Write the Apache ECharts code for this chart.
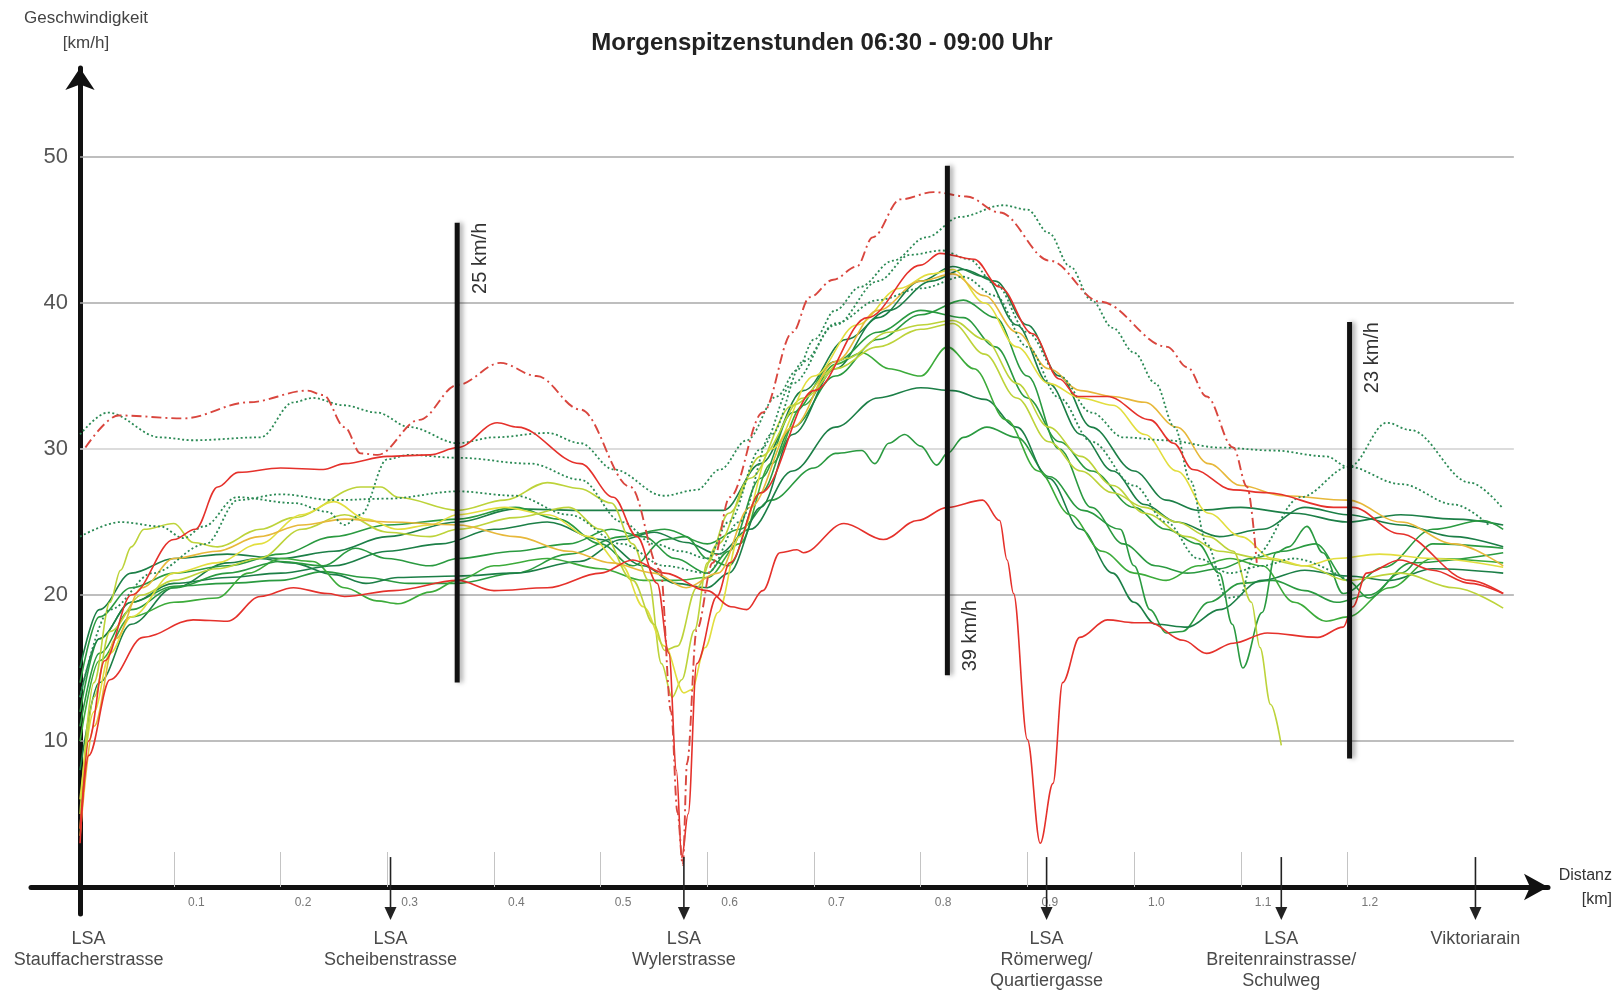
<!DOCTYPE html>
<html><head><meta charset="utf-8">
<script src="https://cdn.jsdelivr.net/npm/echarts@6/dist/echarts.min.js"></script>
<style>html,body{margin:0;padding:0;background:#fff}#c{width:1623px;height:993px}</style>
</head><body><div id="c"></div>
<script>
// ---------- axis ticks ----------
const xTicks = [0.1,0.2,0.3,0.4,0.5,0.6,0.7,0.8,0.9,1.0,1.1,1.2];
const yTicks = [10,20,30,40,50];
const gridEnds = [0.012, 1.356];

// ---------- signals (LSA) along the route ----------
const signalKm    = [0.02, 0.303, 0.578, 0.918, 1.138, 1.320];
const signalNames = ['LSA\nStauffacherstrasse','LSA\nScheibenstrasse','LSA\nWylerstrasse','LSA\nRömerweg/\nQuartiergasse','LSA\nBreitenrainstrasse/\nSchulweg','Viktoriarain'];
const signalArrow = [false,true,true,true,true,true];

// ---------- average speed bars ----------
const barKm    = [0.3655, 0.825, 1.202];
const barLow   = [14.0, 14.5, 8.8];
const barHigh  = [45.5, 49.4, 38.7];
const barText  = ['25 km/h','39 km/h','23 km/h'];

// ---------- measured runs [km, km/h] ----------
const rDashDot = [[0.017,30.1],[0.048,32.3],[0.109,32.1],[0.17,33.2],[0.225,34.0],[0.24,33.7],[0.26,31.5],[0.275,29.7],[0.291,29.6],[0.33,32.0],[0.366,34.4],[0.406,35.9],[0.44,35.0],[0.481,32.7],[0.528,27.4],[0.556,21.7],[0.566,12],[0.572,5.1],[0.577,1.5],[0.581,8.5],[0.590,17.6],[0.605,22.2],[0.621,26.7],[0.652,32.5],[0.68,38.0],[0.696,40.4],[0.718,41.6],[0.74,42.5],[0.755,44.5],[0.781,47.1],[0.812,47.6],[0.843,47.3],[0.874,46.2],[0.921,42.9],[0.968,40.1],[1.031,37.0],[1.05,35.6],[1.068,33.6],[1.093,30.1],[1.106,27.4],[1.115,22.2]];
const red1 = [[0.012,3],[0.02,10],[0.035,15.5],[0.06,20],[0.1,23.8],[0.12,24.5],[0.141,27.4],[0.16,28.4],[0.2,28.7],[0.24,28.6],[0.26,29.0],[0.3,29.5],[0.34,29.6],[0.366,30.1],[0.403,31.8],[0.422,31.5],[0.481,29.0],[0.512,26.7],[0.534,24.0],[0.553,20.8],[0.564,16],[0.571,8],[0.576,2],[0.582,5],[0.59,15.3],[0.609,19.9],[0.621,22.2],[0.65,27],[0.7,34],[0.75,39],[0.8,42.6],[0.818,43.4],[0.85,43],[0.874,41.1],[0.905,37.9],[0.93,34.8],[0.947,33.6],[0.975,33.6],[1.015,32.0],[1.037,30.4],[1.055,28.6],[1.093,27.2],[1.125,27.0],[1.187,26.0],[1.205,26.0],[1.249,24.2],[1.315,21.0],[1.346,20.1]];
const red2 = [[0.012,4],[0.02,9],[0.04,14.2],[0.071,17.1],[0.118,18.3],[0.15,18.2],[0.181,19.9],[0.212,20.5],[0.244,20.1],[0.26,19.9],[0.306,20.3],[0.366,21.0],[0.40,20.3],[0.45,20.5],[0.5,21.5],[0.53,22.4],[0.56,21.5],[0.6,20.3],[0.622,19.2],[0.637,19.0],[0.652,20.3],[0.668,22.9],[0.684,23.1],[0.69,22.9],[0.728,24.9],[0.765,23.8],[0.797,25.1],[0.825,26.0],[0.858,26.5],[0.874,25.1],[0.881,22.4],[0.887,20.1],[0.9,10.1],[0.912,3.0],[0.924,7.1],[0.933,14.0],[0.949,17.1],[0.975,18.3],[1.0,18.1],[1.015,18.1],[1.046,16.9],[1.068,16.0],[1.093,16.7],[1.125,17.4],[1.172,17.1],[1.196,17.8],[1.205,19.2],[1.218,21.5],[1.249,22.4],[1.28,21.7],[1.315,20.8],[1.346,20.1]];
const dot1 = [[0.012,31.0],[0.038,32.5],[0.087,30.8],[0.118,30.6],[0.181,30.8],[0.212,33.2],[0.23,33.5],[0.259,33.0],[0.29,32.5],[0.321,31.5],[0.366,30.4],[0.4,30.8],[0.45,31.1],[0.481,30.4],[0.512,28.6],[0.559,26.8],[0.59,27.2],[0.612,28.6],[0.637,30.6],[0.665,33.6],[0.684,35.4],[0.7,37.5],[0.72,39.5],[0.743,41.1],[0.774,42.9],[0.805,44.5],[0.837,45.9],[0.877,46.7],[0.9,46.4],[0.92,44.8],[0.94,42.5],[0.96,40.2],[0.98,38.3],[1.0,36.6],[1.02,34.5],[1.038,31.5],[1.053,27.8],[1.068,23.5],[1.087,19.8],[1.099,19.9],[1.112,22.6],[1.156,26.7],[1.202,28.8],[1.237,31.8],[1.259,31.3],[1.315,27.7],[1.346,25.9]];
const dot2 = [[0.012,24],[0.05,25],[0.087,24.7],[0.109,23.9],[0.128,24.7],[0.159,26.7],[0.212,26.3],[0.244,25.7],[0.26,24.8],[0.275,25.5],[0.3,29.3],[0.32,29.6],[0.366,29.4],[0.434,29.0],[0.481,27.9],[0.52,25],[0.55,23.5],[0.575,23.0],[0.6,22.5],[0.62,25],[0.65,30],[0.68,34.5],[0.72,38.5],[0.76,41.5],[0.79,43.3],[0.82,43.6],[0.845,43.0],[0.87,41.3],[0.9,38],[0.93,35],[0.96,32.5],[0.99,30.8],[1.03,30.6],[1.08,30.1],[1.13,29.9],[1.18,29.5],[1.2,28.8],[1.25,27.6],[1.3,26.2],[1.334,24.7]];
const dot3 = [[0.012,13],[0.04,19],[0.08,21.5],[0.13,23.5],[0.16,26.5],[0.2,26.9],[0.25,26.5],[0.3,26.6],[0.366,27.1],[0.42,26.8],[0.47,25.5],[0.52,23.5],[0.56,22.0],[0.6,21.5],[0.63,25],[0.66,31],[0.69,36],[0.72,38.6],[0.76,40.2],[0.8,41],[0.84,41.8],[0.87,40.5],[0.9,37],[0.93,33.5],[0.96,30.5],[1.0,27.5],[1.03,25.0],[1.06,22.5],[1.09,21.5],[1.12,22],[1.15,22.5],[1.2,21]];
const green1 = [[0.012,15],[0.03,19],[0.06,21.5],[0.1,22.5],[0.15,22.8],[0.2,22.5],[0.25,23.0],[0.3,24.0],[0.366,25.0],[0.42,25.9],[0.48,25.8],[0.55,25.8],[0.615,25.8],[0.65,29],[0.69,34],[0.73,37.5],[0.77,39.5],[0.81,41.5],[0.84,42.3],[0.87,41.5],[0.9,38.5],[0.93,35],[0.96,31.5],[1.0,28.5],[1.03,26.5],[1.06,25.8],[1.1,26.0],[1.15,25.6],[1.2,25.0],[1.25,25.5],[1.3,25.2],[1.346,24.8]];
const green2 = [[0.012,12],[0.03,17],[0.06,19.5],[0.1,20.6],[0.15,20.8],[0.2,21.0],[0.24,21.6],[0.28,21.2],[0.32,20.8],[0.366,20.8],[0.42,21.5],[0.47,22.8],[0.52,24],[0.56,24.5],[0.6,23.5],[0.63,24.5],[0.66,26.5],[0.7,28.7],[0.72,29.7],[0.745,29.9],[0.757,29.0],[0.77,30.4],[0.785,31.0],[0.8,30.2],[0.815,28.9],[0.825,29.7],[0.84,30.8],[0.862,31.5],[0.89,30.8],[0.921,28.1],[0.952,25.8],[0.987,24.5],[1.0,22],[1.015,19],[1.03,17.4],[1.045,17.5],[1.07,19.5],[1.1,20.8],[1.13,21.0],[1.16,20.3],[1.19,19.5],[1.22,20.0],[1.26,22.2],[1.346,22.9]];
const green3 = [[0.012,8],[0.03,14],[0.06,18],[0.1,20.5],[0.15,22.2],[0.18,22.5],[0.21,22.2],[0.25,21.4],[0.28,20.8],[0.31,21.2],[0.366,21.3],[0.42,21.5],[0.48,22.3],[0.52,23.8],[0.55,24.3],[0.58,23.6],[0.61,22.8],[0.64,24.5],[0.68,28.5],[0.72,31.5],[0.76,33.5],[0.8,34.2],[0.83,34.0],[0.86,33.4],[0.89,31.5],[0.92,28],[0.95,24.5],[0.98,21.5],[1.0,19.5],[1.02,18.0],[1.05,17.8],[1.08,19.0],[1.12,21.0],[1.16,21.7],[1.2,21.3],[1.24,21.0],[1.28,21.8],[1.346,21.5]];
const green4 = [[0.012,10],[0.03,15.5],[0.06,18.5],[0.1,19.5],[0.14,19.8],[0.17,21.5],[0.2,22.5],[0.23,22.3],[0.26,20.5],[0.29,19.6],[0.31,19.4],[0.34,20.2],[0.366,21.0],[0.4,22.0],[0.45,22.5],[0.5,21.8],[0.54,21.0],[0.57,21.0],[0.6,21.2],[0.63,23.5],[0.66,29],[0.69,33],[0.72,35.8],[0.745,36.6],[0.77,35.5],[0.8,35.0],[0.825,37.0],[0.85,35.5],[0.88,32],[0.91,28.5],[0.94,25.5],[0.97,23.0],[1.0,21.5],[1.03,21.0],[1.06,22.0],[1.09,22.5],[1.12,22.0],[1.15,19.5],[1.18,18.2],[1.2,18.5],[1.24,20.5],[1.28,22.5],[1.346,22.2]];
const green5 = [[0.012,14],[0.03,18.5],[0.06,20.5],[0.1,21.5],[0.15,22.0],[0.2,22.8],[0.25,24.0],[0.3,24.8],[0.366,25.2],[0.42,26.0],[0.46,25.2],[0.5,23.5],[0.53,22.0],[0.56,23.8],[0.58,24.0],[0.6,22.5],[0.62,22.0],[0.65,27],[0.68,31.5],[0.72,35],[0.76,37.5],[0.8,39.2],[0.84,40.2],[0.87,39.0],[0.9,35],[0.93,30],[0.96,26],[0.99,23.5],[1.02,22.0],[1.05,21.5],[1.08,21.8],[1.11,22.5],[1.14,23.0],[1.17,23.5],[1.2,21],[1.22,19.8],[1.25,21.5],[1.28,23.5],[1.346,23.2]];
const green6 = [[0.012,13],[0.03,17],[0.06,19.5],[0.1,20.8],[0.15,21.2],[0.2,21.5],[0.25,22.0],[0.3,23.0],[0.35,23.5],[0.4,24.5],[0.45,25.0],[0.5,23.8],[0.54,22.0],[0.57,20.8],[0.6,20.5],[0.62,21.5],[0.65,26],[0.68,31],[0.72,35.5],[0.76,39],[0.8,41.5],[0.83,42.5],[0.86,41.8],[0.89,38.5],[0.92,34.5],[0.95,31.0],[0.98,28.5],[1.01,26.2],[1.04,25.0],[1.08,24.0],[1.12,24.5],[1.16,26.0],[1.2,25.5],[1.25,24.8],[1.3,24.0],[1.346,23.3]];
const green7 = [[0.012,11],[0.03,16],[0.06,19],[0.1,20.5],[0.15,21.5],[0.2,22.3],[0.24,22.0],[0.27,23.2],[0.3,22.5],[0.34,22.0],[0.366,22.5],[0.42,23.0],[0.47,23.5],[0.51,24.5],[0.54,24.0],[0.57,22.5],[0.6,21.5],[0.62,23],[0.65,28],[0.68,32.5],[0.72,36],[0.76,38],[0.8,39.5],[0.84,39.0],[0.87,37],[0.9,33.5],[0.93,30.5],[0.96,28.5],[1.0,26.0],[1.03,24.5],[1.06,23.5],[1.08,21.5],[1.092,18],[1.102,15.0],[1.12,18.8],[1.133,22.9],[1.145,23.3],[1.162,24.7],[1.177,22.9],[1.196,20.1],[1.234,21.9],[1.28,24.5],[1.327,25.1],[1.346,24.5]];
const yellow1 = [[0.012,5],[0.025,14],[0.04,19.5],[0.05,21.7],[0.06,23.3],[0.072,24.5],[0.1,24.9],[0.118,23.6],[0.141,23.3],[0.181,24.5],[0.212,25.3],[0.275,27.4],[0.294,27.4],[0.31,26.7],[0.366,25.8],[0.41,26.5],[0.45,27.7],[0.48,27.3],[0.51,26.3],[0.53,23.5],[0.545,21.0],[0.557,15.3],[0.567,13.0],[0.576,14.2],[0.588,17.6],[0.6,22.2],[0.62,25.6],[0.65,29.5],[0.69,33.5],[0.73,36.2],[0.77,38.0],[0.8,38.5],[0.83,38.8],[0.86,37.5],[0.89,34.5],[0.92,31.5],[0.95,29.5],[0.98,27.5],[1.01,25.6],[1.05,24.0],[1.08,23.0],[1.12,22.5],[1.16,22.0],[1.2,21.0],[1.25,21.5],[1.3,20.5],[1.346,19.1]];
const yellow2 = [[0.012,6],[0.025,12],[0.04,16],[0.06,18.5],[0.1,21.5],[0.14,22.2],[0.18,23.5],[0.22,25.5],[0.25,26.4],[0.28,25.2],[0.31,24.5],[0.34,24.8],[0.366,25.5],[0.41,26.0],[0.45,25.5],[0.49,24.0],[0.52,22.0],[0.54,19.2],[0.56,16.5],[0.578,13.3],[0.585,13.5],[0.598,16.4],[0.61,18.8],[0.63,24],[0.66,30],[0.7,35],[0.74,38.5],[0.78,41.0],[0.81,42.0],[0.83,42.3],[0.86,40.0],[0.89,37],[0.92,34.5],[0.95,33.5],[0.98,33.0],[1.01,31.0],[1.04,28.5],[1.07,25.6],[1.1,24.0],[1.13,22.5],[1.16,22.0],[1.19,22.5],[1.23,22.8],[1.28,22.5],[1.346,21.9]];
const yellow3 = [[0.012,4],[0.025,13],[0.04,17.5],[0.07,20],[0.1,21.0],[0.14,21.8],[0.18,22.5],[0.22,24.5],[0.26,25.5],[0.3,24.3],[0.34,24.0],[0.366,24.5],[0.42,25.3],[0.47,26.0],[0.5,24.5],[0.53,21.0],[0.55,18.0],[0.56,16.2],[0.572,16.5],[0.59,20.5],[0.61,23.5],[0.64,28],[0.68,33],[0.72,35.5],[0.76,37.0],[0.8,38.2],[0.83,38.6],[0.86,36.5],[0.89,33.5],[0.92,30.5],[0.95,28.5],[0.98,27.0],[1.01,26.0],[1.04,25.0],[1.07,24.0],[1.093,23.0],[1.11,19.5],[1.118,16.4],[1.128,12.5],[1.138,9.7]];
const orange1 = [[0.012,3.5],[0.025,11],[0.045,17],[0.07,20.5],[0.1,22.5],[0.14,23.0],[0.18,24.0],[0.22,24.8],[0.26,25.2],[0.3,25.0],[0.366,24.8],[0.42,24.0],[0.47,23.0],[0.51,22.2],[0.55,21.5],[0.58,20.5],[0.61,21.5],[0.64,26],[0.68,31.5],[0.72,36.0],[0.76,39.5],[0.8,41.5],[0.83,42.0],[0.86,40.5],[0.89,38],[0.92,35.5],[0.95,34.0],[0.98,33.6],[1.01,33.2],[1.04,31.5],[1.07,29.0],[1.1,27.5],[1.14,26.8],[1.2,26.5],[1.25,25.0],[1.3,23.5],[1.346,22.0]];

// ---------- styles ----------
const RED='#e5312b', REDDD='#d9463e', GD='#1c7f47', GM='#2a9a40', GL='#3cab3a', GDOT='#2b8a55', YG='#bdd33a', YE='#e2de3e', OR='#e7b83a';
const FONT='Liberation Sans, Arial, sans-serif';

function run(data, color, type, width, z){
  return {type:'line', data:data, symbol:'none', smooth:0.35, smoothMonotone:'x', z:z||3,
    lineStyle:{color:color, width:width||1.6, type:type||'solid'}, silent:true};
}

const chart = echarts.init(document.getElementById('c'), null, {renderer:'canvas'});

const series = [
  // horizontal grid lines
  {type:'custom', clip:false, z:1, silent:true, data:yTicks.map(v=>[v]),
   renderItem:function(params, api){
     const v = api.value(0);
     const a = api.coord([gridEnds[0], v]), b = api.coord([gridEnds[1], v]);
     return {type:'line', shape:{x1:a[0],y1:a[1],x2:b[0],y2:b[1]}, style:{stroke: v===30?'#d0d0d0':'#a9a9a9', lineWidth:1.5}};
   }},
  run(green1, GD), run(green2, GM), run(green3, GD), run(green4, GL), run(green5, GM), run(green6, GD), run(green7, GM),
  run(yellow1, YG), run(yellow2, YE), run(yellow3, YG), run(orange1, OR),
  run(dot1, GDOT, [2,2.5], 1.8), run(dot2, GDOT, [2,2.5], 1.8), run(dot3, GDOT, [2,2.5], 1.8),
  run(red2, RED), run(red1, RED), run(rDashDot, REDDD, [10,4,2,4], 1.9),
  // average-speed bars
  {type:'custom', clip:false, z:10, silent:true, data:barKm.map((k,i)=>[k, barLow[i], barHigh[i], i]),
   renderItem:function(params, api){
     const i = api.value(3);
     const top = api.coord([api.value(0), api.value(2)]);
     const bot = api.coord([api.value(0), api.value(1)]);
     const atTop = (i !== 1);
     return {type:'group', children:[
       {type:'line', shape:{x1:top[0],y1:top[1],x2:bot[0],y2:bot[1]},
        style:{stroke:'#111', lineWidth:5, shadowBlur:5, shadowColor:'rgba(0,0,0,0.35)', shadowOffsetX:3}},
       {type:'text', x: top[0]+23, y: atTop ? top[1] : bot[1]-4, rotation: Math.PI/2,
        style:{text: barText[i], fill:'#333', font:'20px '+FONT, align: atTop?'right':'left', verticalAlign:'middle'}}
     ]};
   }},
  // signals: arrows and labels
  {type:'custom', clip:false, z:10, silent:true, data:signalKm.map((k,i)=>[k, i]),
   renderItem:function(params, api){
     const i = api.value(1);
     const k = api.value(0);
     const ch = [];
     if (signalArrow[i]) {
       const a = api.coord([k, 2.05]), b = api.coord([k, -2.2]);
       ch.push({type:'line', shape:{x1:a[0],y1:a[1],x2:b[0],y2:b[1]-8}, style:{stroke:'#222', lineWidth:1.6}});
       ch.push({type:'polygon', shape:{points:[[b[0]-6,b[1]-12],[b[0]+6,b[1]-12],[b[0],b[1]+1]]}, style:{fill:'#222'}});
     }
     const t = api.coord([k, -2.85]);
     ch.push({type:'text', x:t[0], y:t[1], style:{text:signalNames[i], fill:'#4a4a4a', font:'18px '+FONT, align:'center', verticalAlign:'top', lineHeight:21}});
     return {type:'group', children:ch};
   }}
];

chart.setOption({
  animation:false,
  backgroundColor:'#fff',
  grid:{left:31, right:75, top:68, bottom:79, containLabel:false},
  xAxis:{type:'value', min:-0.034, max:1.388,
    axisLine:{show:true, onZero:true, lineStyle:{color:'#111', width:5}, symbol:['none','arrow'], symbolSize:[20,24]},
    axisTick:{show:true, inside:true, length:35, customValues:xTicks, lineStyle:{color:'#c4c4c4', width:1}},
    axisLabel:{show:true, inside:true, margin:5, customValues:xTicks, align:'left', padding:[0,0,0,14],
      formatter:v=>v.toFixed(1), color:'#777', fontSize:12, fontFamily:FONT},
    splitLine:{show:false}},
  yAxis:{type:'value', min:-1.85, max:56.1, offset:-49,
    axisLine:{show:true, onZero:false, lineStyle:{color:'#111', width:5}, symbol:['none','arrow'], symbolSize:[22,22]},
    axisTick:{show:false},
    axisLabel:{show:true, customValues:yTicks, margin:12, color:'#555', fontSize:22, fontFamily:FONT},
    splitLine:{show:false}},
  graphic:[
    {type:'text', x:822, y:43, silent:true, style:{text:'Morgenspitzenstunden 06:30 - 09:00 Uhr', fill:'#222', font:'bold 24px '+FONT, align:'center', verticalAlign:'middle'}},
    {type:'text', x:86, y:6, silent:true, style:{text:'Geschwindigkeit\n[km/h]', fill:'#444', font:'17px '+FONT, align:'center', verticalAlign:'top', lineHeight:25}},
    {type:'text', x:1612, y:864, silent:true, style:{text:'Distanz\n[km]', fill:'#333', font:'16px '+FONT, align:'right', verticalAlign:'top', lineHeight:24}}
  ],
  series:series
});
</script>
</body></html>
